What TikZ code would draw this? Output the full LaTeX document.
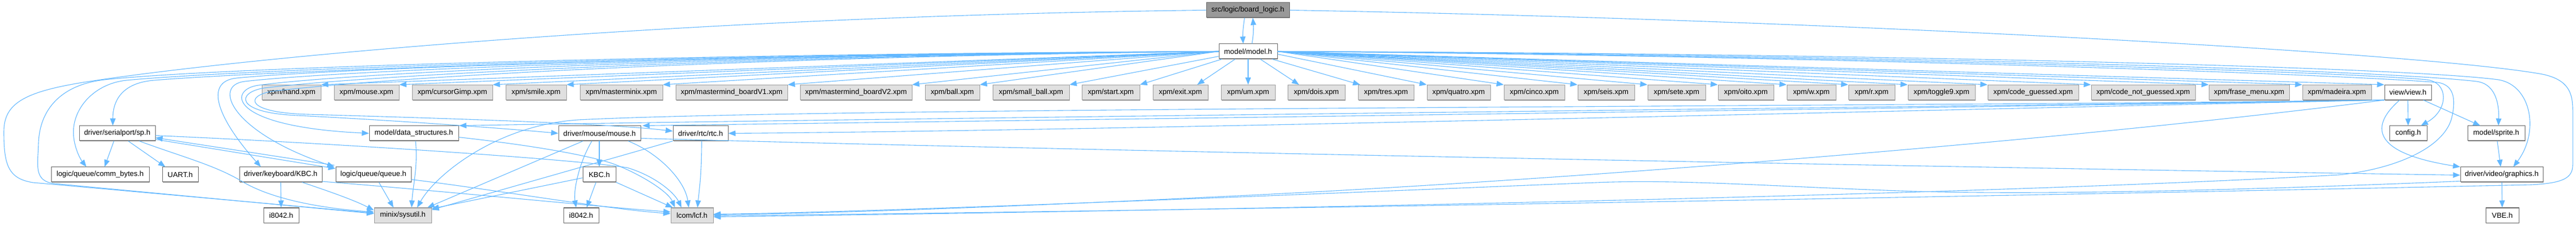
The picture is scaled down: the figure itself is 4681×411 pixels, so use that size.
\documentclass[tikz,border=0pt]{standalone}
\usepackage{fontspec}
\setmainfont{Liberation Sans}
\usetikzlibrary{arrows.meta,shadows}
\definecolor{edgec}{HTML}{63B8FF}
\definecolor{bordc}{HTML}{666666}
\definecolor{grayb}{HTML}{999999}
\definecolor{grayf}{HTML}{E0E0E0}
\definecolor{topf}{HTML}{999999}
\begin{document}
\begin{tikzpicture}[x=1pt,y=-1pt,
 bx/.style={draw=bordc, fill=white, line width=1pt, minimum height=27pt, minimum width=#1, inner sep=0pt,
   font=\fontsize{13.3}{16}\selectfont,
   general shadow={fill=black!45, shadow xshift=1.1pt, shadow yshift=-1.1pt}},
 gx/.style={bx=#1, draw=grayb, fill=grayf},
 tx/.style={bx=#1, fill=topf},
 ed/.style={draw=edgec, line width=1.1pt, -{Triangle[length=13pt,width=10pt]}}
]
\useasboundingbox (0,0) rectangle (4681,411);
% row 0 / 1
\node[tx=151pt] (board) at (2267.5,18.5) {src/logic/board\_logic.h};
\node[bx=106pt] (model) at (2268,93.5) {model/model.h};
% row 2
\node[gx=107pt] (hand) at (529.5,168) {xpm/hand.xpm};
\node[gx=118pt] (mousex) at (666,168) {xpm/mouse.xpm};
\node[gx=146pt] (cursor) at (822,168) {xpm/cursorGimp.xpm};
\node[gx=110pt] (smile) at (974,168) {xpm/smile.xpm};
\node[gx=150pt] (masterminix) at (1129,168) {xpm/masterminix.xpm};
\node[gx=203pt] (bV1) at (1329.5,168) {xpm/mastermind\_boardV1.xpm};
\node[gx=203pt] (bV2) at (1555.5,168) {xpm/mastermind\_boardV2.xpm};
\node[gx=99pt] (ball) at (1730.5,168) {xpm/ball.xpm};
\node[gx=139pt] (smallball) at (1873.5,168) {xpm/small\_ball.xpm};
\node[gx=105pt] (start) at (2018.5,168) {xpm/start.xpm};
\node[gx=100pt] (exit) at (2145,168) {xpm/exit.xpm};
\node[gx=98pt] (um) at (2268,168) {xpm/um.xpm};
\node[gx=104pt] (dois) at (2392,168) {xpm/dois.xpm};
\node[gx=101pt] (tres) at (2518.5,168) {xpm/tres.xpm};
\node[gx=115pt] (quatro) at (2650.5,168) {xpm/quatro.xpm};
\node[gx=110pt] (cinco) at (2788,168) {xpm/cinco.xpm};
\node[gx=103pt] (seis) at (2918.5,168) {xpm/seis.xpm};
\node[gx=105pt] (sete) at (3046.5,168) {xpm/sete.xpm};
\node[gx=101pt] (oito) at (3172.5,168) {xpm/oito.xpm};
\node[gx=89pt] (w) at (3291.5,168) {xpm/w.xpm};
\node[gx=84pt] (r) at (3401,168) {xpm/r.xpm};
\node[gx=122pt] (toggle) at (3528,168) {xpm/toggle9.xpm};
\node[gx=165pt] (codeg) at (3694.5,168) {xpm/code\_guessed.xpm};
\node[gx=189pt] (codeng) at (3894.5,168) {xpm/code\_not\_guessed.xpm};
\node[gx=146pt] (frase) at (4087,168) {xpm/frase\_menu.xpm};
\node[gx=125pt] (madeira) at (4246.5,168) {xpm/madeira.xpm};
\node[bx=85pt] (view) at (4375.5,168) {view/view.h};
% row 3
\node[bx=138pt] (sp) at (213,242.5) {driver/serialport/sp.h};
\node[bx=162pt] (ds) at (752,242.5) {model/data\_structures.h};
\node[bx=149pt] (mouse) at (1089.5,242.5) {driver/mouse/mouse.h};
\node[bx=100pt] (rtc) at (1273,242.5) {driver/rtc/rtc.h};
\node[bx=68pt] (config) at (4376,242.5) {config.h};
\node[bx=104pt] (sprite) at (4536,242.5) {model/sprite.h};
% row 4
\node[bx=178pt] (comm) at (182,317.5) {logic/queue/comm\_bytes.h};
\node[bx=65pt] (uart) at (327.5,317.5) {UART.h};
\node[bx=150pt] (kbd) at (510,317.5) {driver/keyboard/KBC.h};
\node[bx=137pt] (queue) at (678.5,317.5) {logic/queue/queue.h};
\node[bx=60pt] (kbc) at (1089,317.5) {KBC.h};
\node[bx=150pt] (graphics) at (4546,317.5) {driver/video/graphics.h};
% row 5
\node[bx=64pt] (ia) at (511,391.5) {i8042.h};
\node[gx=104pt] (sysutil) at (732,391.5) {minix/sysutil.h};
\node[bx=64pt] (ib) at (1056,391.5) {i8042.h};
\node[gx=77pt] (lcf) at (1257.5,391.5) {lcom/lcf.h};
\node[bx=60pt] (vbe) at (4547,391.5) {VBE.h};

% ---- edges ----
\draw[ed] ([xshift=-6]board.south) .. controls (2259,50) and (2258,62) .. ([xshift=-9]model.north);
\draw[ed] ([xshift=7]model.north) .. controls (2278,62) and (2278,50) .. ([xshift=9]board.south);
% board -> sysutil, lcf
\draw[ed] (board.west) .. controls (1200,30) and (400,110) .. (150,150) .. controls (40,168) and (7,190) .. (7,240) .. controls (7,300) and (15,325) .. (60,332) -- ([yshift=4]sysutil.west);
\draw[ed] (board.east) .. controls (3300,35) and (4400,95) .. (4620,135) .. controls (4668,145) and (4675,170) .. (4675,200) -- (4675,300) .. controls (4675,325) and (4655,333) .. (4600,336) .. controls (3500,360) and (2000,385) .. ([yshift=-1]lcf.east);
% model -> xpm
\foreach \t in {hand,mousex,cursor,smile,masterminix,bV1,bV2,ball}
  \draw[ed] (model.west) -- (\t.north east);
\draw[ed] ([yshift=-9]model.west) -- (smallball.north east);
\draw[ed] ([xshift=6]model.south west) -- (start.north east);
\draw[ed] ([xshift=30]model.south west) -- ([xshift=-20]exit.north east);
\draw[ed] (model) -- (um);
\draw[ed] ([xshift=22]model.south) -- ([xshift=21]dois.north west);
\draw[ed] ([xshift=-10]model.south east) -- ([xshift=4]tres.north west);
\draw[ed] ([yshift=-5]model.east) -- (quatro.north west);
\foreach \t in {cinco,seis,sete,oito,w,r,toggle,codeg,codeng,frase,madeira,view}
  \draw[ed] (model.east) -- (\t.north west);
% model -> left nodes
\draw[ed] (model.west) .. controls (1300,97) and (400,122) .. (190,145) .. controls (110,154) and (72,200) .. (70,260) .. controls (69,300) and (60,330) .. (100,334) -- ([yshift=3]sysutil.west);
\draw[ed] (model.west) .. controls (1300,98) and (450,125) .. (230,146) .. controls (170,152) and (128,200) .. (134,250) .. controls (137,275) and (148,292) .. ([xshift=-25]comm.north);
\draw[ed] (model.west) .. controls (1300,99) and (500,128) .. (280,146) .. controls (230,150) and (205,175) .. ([xshift=-8]sp.north);
\draw[ed] (model.west) .. controls (1300,100) and (600,125) .. (430,142) .. controls (370,148) and (395,215) .. ([xshift=-36]kbd.north);
\draw[ed] (model.west) .. controls (1300,101) and (620,128) .. (445,148) .. controls (385,155) and (420,240) .. ([xshift=-2]queue.north west);
\draw[ed] (model.west) .. controls (1300,102) and (640,132) .. (470,155) .. controls (415,162) and (410,230) .. (ds.west);
\draw[ed] (model.west) .. controls (1300,103) and (660,138) .. (480,160) .. controls (430,168) and (425,205) .. (540,210) .. controls (700,218) and (900,232) .. (mouse.west);
\draw[ed] (model.west) .. controls (1300,104) and (680,143) .. (495,166) .. controls (445,174) and (445,205) .. (560,208) .. controls (800,215) and (1100,224) .. ([yshift=4]rtc.west);
% model -> right nodes
\draw[ed] (model.east) .. controls (3300,100) and (4250,130) .. (4410,145) .. controls (4450,150) and (4450,200) .. ([xshift=23]config.north);
\draw[ed] (model.east) .. controls (3300,98) and (4300,125) .. (4500,148) .. controls (4540,153) and (4541,200) .. ([xshift=4]sprite.north);
\draw[ed] (model.east) .. controls (3300,96) and (4350,120) .. (4540,145) .. controls (4600,155) and (4615,240) .. ([xshift=21]graphics.north);
\draw[ed] (model.east) .. controls (3300,101) and (4250,135) .. (4430,150) .. controls (4462,155) and (4462,185) .. (4455,215) .. controls (4440,270) and (4350,308) .. (4250,318) .. controls (3500,360) and (2000,385) .. ([yshift=-3]lcf.east);
% view
\draw[ed] (view) -- (config);
\draw[ed] ([xshift=28]view.south) -- ([xshift=-29]sprite.north);
\draw[ed] ([xshift=-15]view.south) .. controls (4300,235) and (4320,280) .. (graphics.north west);
\draw[ed] (view.south west) .. controls (3500,195) and (1600,215) .. ([xshift=1]ds.north east);
\draw[ed] (view.south west) .. controls (3500,197) and (1800,220) .. ([xshift=3]mouse.north east);
\draw[ed] (view.south west) .. controls (3500,200) and (2000,238) .. (rtc.east);
\draw[ed] (view.south west) .. controls (3400,195) and (1500,195) .. (1050,218) .. controls (900,228) and (790,320) .. ([xshift=26]sysutil.north);
\draw[ed] (view.south west) .. controls (3800,250) and (2900,325) .. (2250,356) .. controls (1800,378) and (1500,388) .. ([yshift=1]lcf.east);
% graphics, sprite
\draw[ed] (sprite) -- (graphics);
\draw[ed] (graphics) -- (vbe);
\draw[ed] ([yshift=2]graphics.south west) .. controls (4100,345) and (3700,356) .. (3450,347) .. controls (3200,338) and (3050,326) .. (2900,332) .. controls (2500,348) and (1600,386) .. ([yshift=2]lcf.east);
% sp
\draw[ed] ([xshift=-6]sp.south) -- ([xshift=8]comm.north);
\draw[ed] ([xshift=20]sp.south) -- ([xshift=-27]uart.north);
\draw[ed] ([xshift=40]sp.south) .. controls (330,285) and (390,300) .. (440,330) .. controls (500,366) and (600,380) .. ([yshift=6]sysutil.west);
\draw[ed] ([yshift=-4]sp.east) .. controls (600,260) and (1050,290) .. (1140,305) .. controls (1190,320) and (1225,350) .. ([xshift=20]lcf.north west);
\draw[ed] ([yshift=3]sp.south east) -- ([yshift=-3]queue.north west);
\draw[ed] ([xshift=-2,yshift=3]queue.north west) -- ([yshift=6]sp.south east);
% queue
\draw[ed] ([xshift=10]queue.south) -- ([xshift=-17]sysutil.north);
\draw[ed] ([yshift=-9]queue.east) .. controls (900,345) and (1100,380) .. ([yshift=3]lcf.west);
% keyboard KBC
\draw[ed] (kbd) -- (ia);
\draw[ed] ([xshift=39]kbd.south) .. controls (580,342) and (640,362) .. ([yshift=9]sysutil.west);
\draw[ed] ([yshift=-12.5]kbd.east) .. controls (800,347) and (1100,377) .. ([yshift=6]lcf.west);
% data structures
\draw[ed] ([xshift=3]ds.south) .. controls (760,300) and (750,340) .. ([xshift=16]sysutil.north);
\draw[ed] ([yshift=-7]ds.east) .. controls (1000,268) and (1090,288) .. (1120,300) .. controls (1170,320) and (1215,350) .. ([xshift=8]lcf.north west);
% mouse
\draw[ed] ([xshift=-30]mouse.south) -- ([xshift=-8]sysutil.north east);
\draw[ed] ([xshift=-14]mouse.south) .. controls (1050,300) and (1042,350) .. ([xshift=-9]ib.north);
\draw[ed] ([xshift=-0.5]mouse.south) -- (kbc.north);
\draw[ed] ([xshift=52]mouse.south) .. controls (1200,280) and (1245,330) .. ([xshift=-6]lcf.north);
\draw[ed] ([yshift=-9]mouse.east) .. controls (2000,275) and (3600,305) .. ([yshift=-1]graphics.west);
% KBC
\draw[ed] ([xshift=-6]kbc.south) -- ([xshift=10]ib.north);
\draw[ed] ([yshift=-6]kbc.west) -- ([yshift=-2]sysutil.north east);
\draw[ed] (kbc.south east) -- ([xshift=4]lcf.north west);
% rtc
\draw[ed] (rtc.south west) -- ([yshift=-4]sysutil.north east);
\draw[ed] ([xshift=2]rtc.south) .. controls (1275,320) and (1270,350) .. ([xshift=10]lcf.north);
\end{tikzpicture}
\end{document}
